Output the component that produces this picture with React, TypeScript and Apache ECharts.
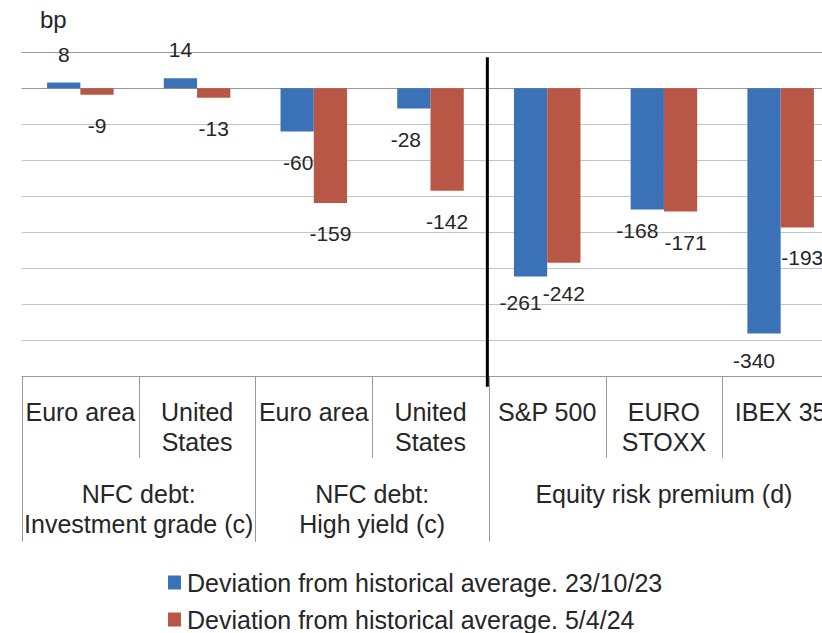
import React, { useEffect, useRef } from "react";
import * as echarts from "echarts";

const categories = ["Euro area", "United\nStates", "Euro area", "United\nStates", "S&P 500", "EURO\nSTOXX", "IBEX 35"];
const seriesNames = [
  "Deviation from historical average. 23/10/23",
  "Deviation from historical average. 5/4/24",
];
const oct23 = [8, 14, -60, -28, -261, -168, -340];
const apr24 = [-9, -13, -159, -142, -242, -171, -193];
const groupLabels = ["NFC debt:\nInvestment grade (c)", "NFC debt:\nHigh yield (c)", "Equity risk premium (d)"];
const groupStarts = [0, 2, 4];
const groupEnds = [2, 4, 7];
const yMin = -400;
const yMax = 50;
const yStep = 50;

// label nudges (style only)
const oct23Shift = [[0, 0], [0, 0], [1, 0], [-8, 0], [-10, -4], [-10, -9], [-10, -3]];
const apr24Shift = [[0, 0], [0, 0], [0, 0], [0, 0], [0, 0], [5, 0], [5, 0]];

const FONT = "'Liberation Sans', Arial, Helvetica, sans-serif";
const TEXT = "#262626";
const BLUE = "#3a71b7";
const RED = "#b95746";

function makeData(values: number[], shifts: number[][]) {
  return values.map((v, i) => ({
    value: v,
    label: {
      position: v >= 0 ? "top" : "bottom",
      distance: v >= 0 ? 18 : 20,
      offset: shifts[i],
    },
  }));
}

export default function App() {
  const ref = useRef<HTMLDivElement>(null);
  useEffect(() => {
    if (!ref.current) return;
    const chart = echarts.init(ref.current, undefined, { renderer: "svg" });
    const labelStyle = { show: true, fontSize: 21, color: TEXT, fontFamily: FONT };
    chart.setOption({
      animation: false,
      textStyle: { fontFamily: FONT },
      grid: { left: 22, top: 52.3, right: -17, height: 324.4, containLabel: false, outerBoundsMode: "none" },
      legend: {
        orient: "vertical",
        left: 168,
        top: 570,
        padding: 0,
        icon: "rect",
        itemWidth: 13,
        itemHeight: 14,
        itemGap: 12,
        textStyle: { fontSize: 25, color: TEXT, fontFamily: FONT, padding: [0, 0, 0, 1] },
        data: seriesNames,
      },
      xAxis: [
        {
          type: "category",
          data: categories,
          position: "bottom",
          axisLine: { onZero: false, lineStyle: { color: "#999", width: 1 } },
          axisTick: { inside: true, length: 10, lineStyle: { color: "#999" } },
          axisLabel: {
            interval: 0,
            fontSize: 25,
            lineHeight: 30,
            verticalAlign: "top",
            margin: 20,
            color: TEXT,
            fontFamily: FONT,
          },
        },
        {
          type: "category",
          data: categories,
          position: "bottom",
          axisLine: { onZero: true, lineStyle: { color: "#999", width: 1 } },
          axisTick: { inside: false, length: 8, lineStyle: { color: "#999" } },
          axisLabel: { show: false },
        },
        {
          type: "category",
          data: categories,
          position: "top",
          axisLine: { onZero: true, lineStyle: { color: "#999", width: 1 } },
          axisTick: { inside: false, length: 8, lineStyle: { color: "#999" } },
          axisLabel: { show: false },
        },
      ],
      yAxis: {
        type: "value",
        min: yMin,
        max: yMax,
        interval: yStep,
        axisLabel: { show: false },
        axisLine: { show: false },
        axisTick: { show: false },
        splitLine: { lineStyle: { color: "#c4c4c4", width: 1 } },
      },
      series: [
        {
          name: seriesNames[0],
          type: "bar",
          xAxisIndex: 0,
          data: makeData(oct23, oct23Shift),
          itemStyle: { color: BLUE },
          barGap: "0%",
          barCategoryGap: "43%",
          label: labelStyle,
        },
        {
          name: seriesNames[1],
          type: "bar",
          xAxisIndex: 0,
          data: makeData(apr24, apr24Shift),
          itemStyle: { color: RED },
          barGap: "0%",
          barCategoryGap: "43%",
          label: labelStyle,
        },
      ],
    });

    const c0 = chart.convertToPixel({ xAxisIndex: 0 }, 0) as number;
    const c1 = chart.convertToPixel({ xAxisIndex: 0 }, 1) as number;
    const bw = c1 - c0;
    const boundary = (k: number) => c0 - bw / 2 + k * bw;
    const yBottom = chart.convertToPixel({ yAxisIndex: 0 }, yMin) as number;
    const yTop = chart.convertToPixel({ yAxisIndex: 0 }, yMax) as number;

    const graphics: any[] = [];
    const groupBounds = new Set<number>([...groupStarts, ...groupEnds]);
    for (let k = 0; k <= categories.length; k++) {
      const isGroup = groupBounds.has(k);
      const x = Math.round(boundary(k)) + 0.5;
      graphics.push({
        type: "line",
        shape: { x1: x, y1: yBottom, x2: x, y2: yBottom + (isGroup ? 165 : 81) },
        style: { stroke: "#999", lineWidth: 1 },
      });
    }
    groupLabels.forEach((lab, i) => {
      const cx = (boundary(groupStarts[i]) + boundary(groupEnds[i])) / 2;
      graphics.push({
        type: "text",
        x: cx,
        y: yBottom + 102,
        style: {
          text: lab,
          fontSize: 25,
          lineHeight: 30,
          fill: TEXT,
          fontFamily: FONT,
          align: "center",
          verticalAlign: "top",
        },
      });
    });
    // black divider between credit and equity blocks
    const xd = boundary(groupStarts[2]) - 1.5;
    graphics.push({
      type: "line",
      shape: { x1: xd, y1: yTop + 5, x2: xd, y2: yBottom + 10 },
      style: { stroke: "#000", lineWidth: 3 },
      z: 100,
    });
    graphics.push({
      type: "text",
      x: 40,
      y: 7,
      style: { text: "bp", fontSize: 24, fill: TEXT, fontFamily: FONT },
    });
    chart.setOption({ graphic: graphics });

    return () => chart.dispose();
  }, []);
  return (
    <div
      ref={ref}
      style={{ position: "fixed", left: 0, top: 0, width: 822, height: 633, background: "#fff" }}
    />
  );
}
